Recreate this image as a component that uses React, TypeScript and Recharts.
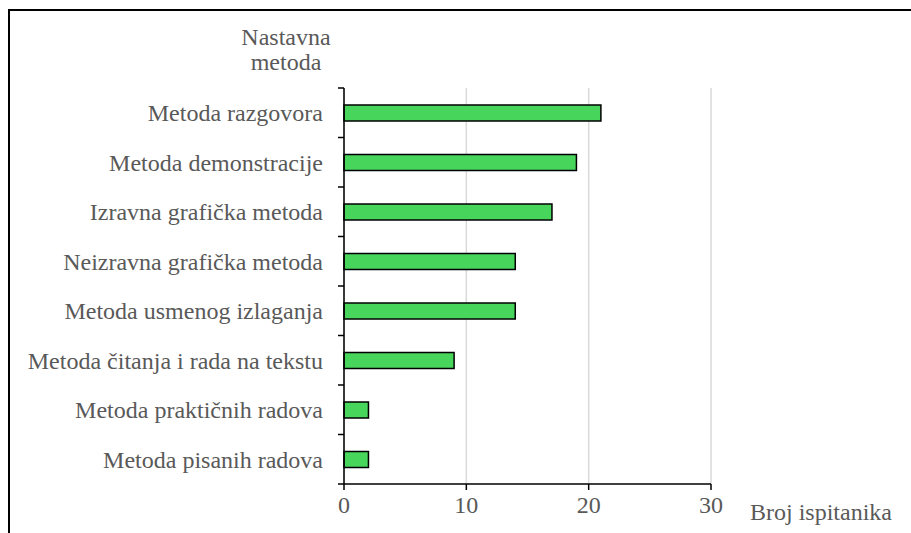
import { BarChart, Bar, XAxis, YAxis, CartesianGrid } from 'recharts'

const categories = [
  'Metoda razgovora',
  'Metoda demonstracije',
  'Izravna grafička metoda',
  'Neizravna grafička metoda',
  'Metoda usmenog izlaganja',
  'Metoda čitanja i rada na tekstu',
  'Metoda praktičnih radova',
  'Metoda pisanih radova',
]
const counts = [21, 19, 17, 14, 14, 9, 2, 2]
const xTicks = [0, 10, 20, 30]

const W = 911
const H = 533
const TOP = 88
const BOTTOM = 49
const AXIS_X = 344
const RIGHT = 200
const TICK_SIZE = 6
const TICK_MARGIN = 15
const TEXT = '#595959'
const FONT = 'Liberation Serif'
const FS = 24

const data = categories.map((name, i) => ({ name, value: counts[i] }))
const band = (H - TOP - BOTTOM) / categories.length
const textStyle = { fontFamily: FONT, fontSize: FS }

const CategoryTick = ({ x, y, payload, index }: any) => {
  const ax = x + TICK_SIZE + TICK_MARGIN
  return (
    <g>
      <line x1={ax - TICK_SIZE} x2={ax} y1={y - band / 2} y2={y - band / 2} stroke="#000" strokeWidth={1.5} />
      {index === categories.length - 1 && (
        <line x1={ax - TICK_SIZE} x2={ax} y1={y + band / 2} y2={y + band / 2} stroke="#000" strokeWidth={1.5} />
      )}
      <text x={x} y={y} dy="0.35em" textAnchor="end" fill={TEXT} style={textStyle}>
        {payload.value}
      </text>
    </g>
  )
}

const YTitle = ({ viewBox }: any) => {
  const cx = viewBox.x + viewBox.width - 58
  return (
    <text x={cx} y={viewBox.y - 43} textAnchor="middle" fill={TEXT} style={textStyle}>
      <tspan x={cx}>Nastavna</tspan>
      <tspan x={cx} dy={25}>metoda</tspan>
    </text>
  )
}

const XTitle = ({ viewBox }: any) => (
  <text x={viewBox.x + viewBox.width + 39} y={viewBox.y + 36} fill={TEXT} style={textStyle}>
    Broj ispitanika
  </text>
)

export default function App() {
  return (
    <div
      style={{
        position: 'absolute',
        left: 0,
        top: 0,
        width: W,
        height: H,
        overflow: 'hidden',
        background: '#fff',
        fontFamily: FONT,
      }}
    >
      <div
        style={{
          position: 'absolute',
          left: 8,
          top: 9,
          width: 3000,
          height: 3000,
          borderTop: '2px solid #000',
          borderLeft: '2px solid #000',
        }}
      />
      <div style={{ position: 'absolute', left: 0, top: 0 }}>
        <BarChart
          width={W}
          height={H}
          data={data}
          layout="vertical"
          margin={{ top: TOP, right: RIGHT, bottom: 0, left: 0 }}
        >
          <CartesianGrid horizontal={false} stroke="#d9d9d9" strokeWidth={1.5} />
          <XAxis
            type="number"
            domain={[0, 30]}
            ticks={xTicks}
            height={BOTTOM}
            axisLine={{ stroke: '#000', strokeWidth: 1.5 }}
            tickLine={{ stroke: '#000', strokeWidth: 1.5 }}
            tickSize={6}
            tickMargin={6}
            tick={{ fill: TEXT, style: textStyle }}
            label={<XTitle />}
          />
          <YAxis
            type="category"
            dataKey="name"
            width={AXIS_X}
            axisLine={{ stroke: '#000', strokeWidth: 1.5 }}
            tickLine={false}
            tickSize={TICK_SIZE}
            tickMargin={TICK_MARGIN}
            interval={0}
            tick={<CategoryTick />}
            label={<YTitle />}
          />
          <Bar
            dataKey="value"
            barSize={16}
            fill="#48D55C"
            stroke="#000"
            strokeWidth={1.5}
            isAnimationActive={false}
          />
        </BarChart>
      </div>
    </div>
  )
}
